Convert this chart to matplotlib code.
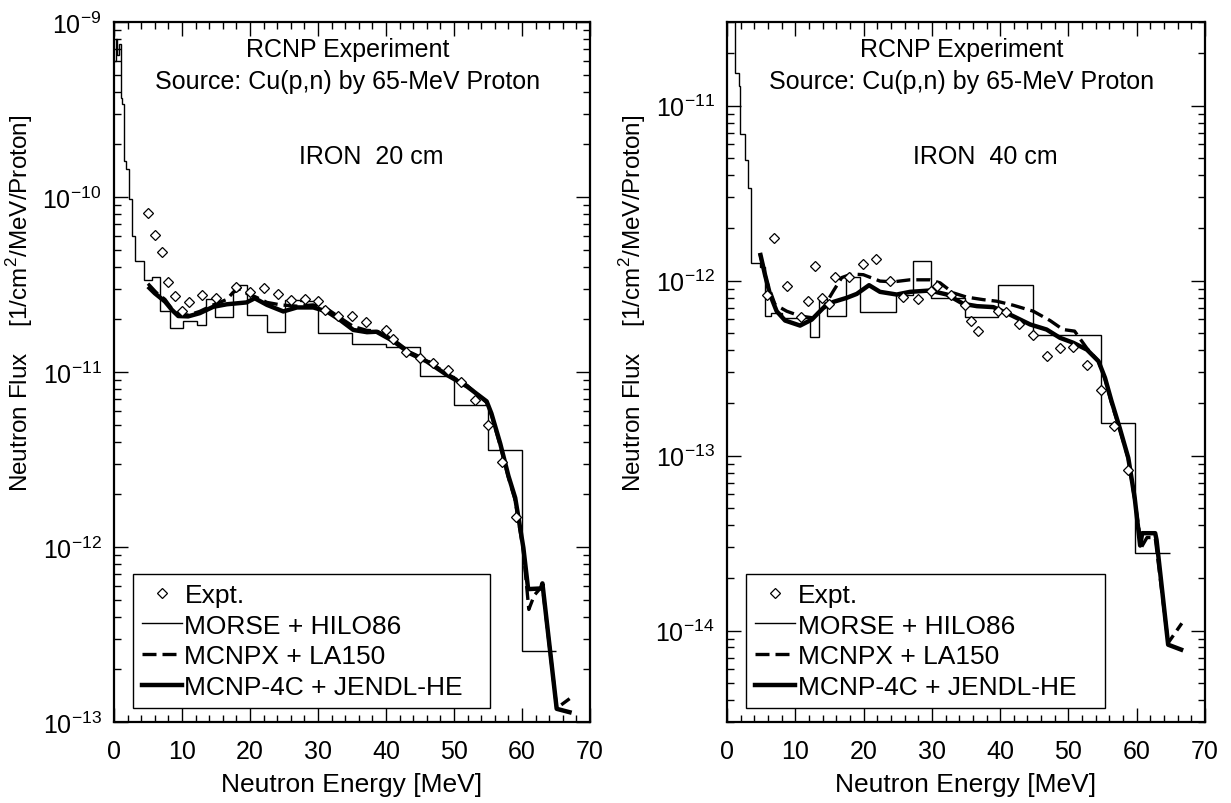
import math
import matplotlib
matplotlib.use("Agg")
import matplotlib.pyplot as plt
from matplotlib.lines import Line2D
from matplotlib.ticker import FixedLocator, MultipleLocator, FuncFormatter, NullFormatter

plt.rcParams['font.family'] = ['Liberation Sans', 'DejaVu Sans']
plt.rcParams['mathtext.fontset'] = 'custom'
plt.rcParams['mathtext.rm'] = 'Liberation Sans'

# ---------------- IRON 20 cm ----------------
morse20_edges = [0, 0.25, 0.5, 0.75, 1.0, 1.2, 1.4, 1.8, 2.2, 2.7, 3.1, 4.4, 5.6, 6.8, 8.2,
                 10.1, 12.2, 13.5, 14.9, 17.5, 19.5, 22.5, 25.1, 27.4, 30.0, 35.0, 40.0,
                 45.0, 50.0, 55.0, 60.0, 65.0]
morse20_flux = [6.0e-10, 8.0e-10, 6.5e-10, 7.5e-10, 3.7e-10, 3.4e-10, 1.6e-10, 1.45e-10,
                9.8e-11, 6.0e-11, 4.3e-11, 3.35e-11, 3.5e-11, 2.22e-11, 1.78e-11, 1.95e-11,
                1.86e-11, 2.6e-11, 2.07e-11, 3.16e-11, 2.12e-11, 1.69e-11, 2.58e-11, 2.55e-11,
                1.67e-11, 1.45e-11, 1.39e-11, 9.46e-12, 6.5e-12, 3.57e-12, 2.53e-13]

expt20_e = [5.05, 6.03, 7.0, 8.0, 9.0, 10.0, 11.1, 13.0, 15.0, 18.0, 20.0, 22.0, 24.1, 26.0,
            28.1, 30.0, 31.0, 33.0, 35.0, 37.0, 40.0, 41.0, 43.0, 45.0, 46.9, 49.1, 51.0,
            53.1, 55.0, 57.0, 59.1]
expt20_flux = [8.13e-11, 6.1e-11, 4.83e-11, 3.29e-11, 2.72e-11, 2.23e-11, 2.53e-11, 2.76e-11,
               2.64e-11, 3.08e-11, 2.88e-11, 3.01e-11, 2.81e-11, 2.57e-11, 2.62e-11, 2.55e-11,
               2.26e-11, 2.1e-11, 2.1e-11, 1.94e-11, 1.74e-11, 1.55e-11, 1.31e-11, 1.2e-11,
               1.12e-11, 1.03e-11, 8.73e-12, 6.95e-12, 5.0e-12, 3.07e-12, 1.49e-12]

mcnpx20_e = [5.0, 6.2, 7.5, 8.5, 9.5, 11.0, 12.6, 14.6, 16.6, 17.5, 18.6, 19.6, 20.7, 22.5,
             24.5, 26.9, 29.3, 31.3, 33.2, 35.2, 37.2, 38.6, 41.1, 43.5, 46.0, 48.9, 51.9,
             54.8, 55.5, 56.8, 58.0, 59.0, 60.2, 61.0, 61.8, 63.0, 65.1, 67.0]
mcnpx20_flux = [3.2e-11, 2.85e-11, 2.6e-11, 2.3e-11, 2.12e-11, 2.12e-11, 2.22e-11, 2.42e-11,
                2.6e-11, 2.85e-11, 3.0e-11, 2.8e-11, 2.7e-11, 2.5e-11, 2.42e-11, 2.38e-11,
                2.42e-11, 2.3e-11, 2.05e-11, 1.82e-11, 1.73e-11, 1.72e-11, 1.53e-11, 1.3e-11,
                1.17e-11, 9.8e-12, 8.4e-12, 6.7e-12, 5.7e-12, 3.8e-12, 2.5e-12, 1.85e-12,
                9.5e-13, 4.4e-13, 5.3e-13, 6.0e-13, 1.2e-13, 1.36e-13]

mcnp20_e = [5.0, 6.0, 7.5, 8.5, 9.45, 10.9, 12.6, 14.6, 16.6, 19.5, 20.7, 22.5, 24.9, 26.9,
            29.3, 31.3, 33.2, 35.2, 37.2, 38.6, 41.1, 43.5, 46.0, 48.9, 51.9, 54.8, 55.5,
            56.8, 58.0, 59.0, 60.2, 60.9, 62.8, 63.0, 65.1, 67.3]
mcnp20_flux = [3.08e-11, 2.82e-11, 2.53e-11, 2.27e-11, 2.09e-11, 2.08e-11, 2.17e-11, 2.36e-11,
               2.44e-11, 2.5e-11, 2.64e-11, 2.42e-11, 2.22e-11, 2.34e-11, 2.34e-11, 2.22e-11,
               1.99e-11, 1.74e-11, 1.69e-11, 1.7e-11, 1.5e-11, 1.28e-11, 1.15e-11, 9.66e-12,
               8.28e-12, 6.8e-12, 5.8e-12, 3.9e-12, 2.55e-12, 1.91e-12, 9.9e-13, 5.75e-13,
               5.8e-13, 6.2e-13, 1.19e-13, 1.13e-13]

# ---------------- IRON 40 cm ----------------
morse40_edges = [0, 0.6, 1.2, 1.7, 1.9, 2.6, 3.0, 3.5, 4.8, 5.5, 6.5, 8.0, 12.2, 13.4, 14.7,
                 17.4, 19.5, 24.8, 27.3, 29.8, 34.8, 39.7, 44.8, 54.7, 59.7, 64.9]
morse40_flux = [8.0e-11, 4.0e-11, 1.54e-11, 1.29e-11, 6.89e-12, 4.87e-12, 3.39e-12, 1.26e-12,
                1.19e-12, 6.27e-13, 6.54e-13, 6.12e-13, 4.75e-13, 7.96e-13, 6.27e-13, 1.05e-12,
                6.62e-13, 8.28e-13, 1.29e-12, 7.96e-13, 6.18e-13, 9.41e-13, 4.87e-13, 1.54e-13,
                2.78e-14]

expt40_e = [5.9, 6.88, 8.83, 10.83, 11.8, 12.88, 13.9, 14.9, 15.86, 17.8, 19.87, 21.8, 23.9,
            25.8, 27.9, 29.8, 30.8, 32.75, 34.85, 35.8, 36.8, 39.7, 40.8, 42.8, 44.76, 46.8,
            48.76, 50.7, 52.75, 54.7, 56.7, 58.7]
expt40_flux = [8.25e-13, 1.75e-12, 9.29e-13, 6.21e-13, 7.63e-13, 1.21e-12, 7.96e-13, 7.36e-13,
               1.05e-12, 1.05e-12, 1.25e-12, 1.33e-12, 9.93e-13, 8.07e-13, 7.89e-13, 8.77e-13,
               9.36e-13, 8.32e-13, 7.29e-13, 5.86e-13, 5.14e-13, 6.68e-13, 6.62e-13, 5.61e-13,
               4.91e-13, 3.7e-13, 4.12e-13, 4.16e-13, 3.29e-13, 2.37e-13, 1.47e-13, 8.26e-14]

mcnpx40_e = [4.83, 5.8, 7.03, 8.74, 10.7, 12.6, 14.1, 15.56, 16.8, 18.26, 19.96, 22.4, 24.35,
             26.8, 29.7, 31.2, 33.1, 35.1, 37.5, 39.5, 41.9, 44.85, 47.3, 49.2, 50.9, 52.7,
             54.4, 55.35, 56.3, 57.5, 58.76, 59.7, 60.7, 61.5, 62.7, 64.6, 66.6]
mcnpx40_flux = [1.42e-12, 9.9e-13, 7.29e-13, 6.68e-13, 6.27e-13, 6.12e-13, 6.98e-13, 8.7e-13,
                1.04e-12, 1.09e-12, 1.08e-12, 9.93e-13, 9.83e-13, 1.01e-12, 1.01e-12, 9.7e-13,
                8.51e-13, 8.04e-13, 7.78e-13, 7.62e-13, 7.23e-13, 6.68e-13, 5.91e-13, 5.25e-13,
                5.14e-13, 4.1e-13, 3.45e-13, 2.75e-13, 2.0e-13, 1.42e-13, 9.6e-14, 5.6e-14,
                3.0e-14, 3.4e-14, 3.4e-14, 8.5e-15, 1.1e-14]

mcnp40_e = [4.83, 5.56, 6.3, 7.27, 8.5, 10.7, 12.4, 14.1, 15.56, 17.5, 19.0, 20.8, 22.4, 24.85,
            26.8, 29.7, 32.2, 34.6, 36.6, 39.0, 41.4, 44.4, 46.8, 48.75, 50.7, 52.7, 54.4,
            55.35, 56.3, 57.5, 58.76, 59.7, 60.5, 60.8, 62.7, 62.9, 64.6, 66.8]
mcnp40_flux = [1.44e-12, 1.08e-12, 8.32e-13, 6.68e-13, 5.91e-13, 5.53e-13, 5.98e-13, 6.98e-13,
               7.55e-13, 7.96e-13, 8.39e-13, 9.41e-13, 8.62e-13, 8.32e-13, 8.62e-13, 8.77e-13,
               8.32e-13, 7.36e-13, 7.14e-13, 7.05e-13, 6.4e-13, 5.61e-13, 5.25e-13, 4.71e-13,
               4.41e-13, 4.03e-13, 3.46e-13, 2.78e-13, 2.05e-13, 1.44e-13, 9.7e-14, 5.73e-14,
               3.06e-14, 3.6e-14, 3.6e-14, 3.3e-14, 8.3e-15, 7.7e-15]

legend_order = ['Expt.', 'MORSE + HILO86', 'MCNPX + LA150', 'MCNP-4C + JENDL-HE']


def decade_label(v, pos):
    return r'$\mathregular{10^{%d}}$' % int(round(math.log10(v)))


def log_ticks(lo, hi):
    major, minor = [], []
    for e in range(int(math.floor(math.log10(lo))), int(math.ceil(math.log10(hi))) + 1):
        if lo * 0.999 <= 10.0 ** e <= hi * 1.001:
            major.append(10.0 ** e)
        for m in range(2, 10):
            v = m * 10.0 ** e
            if lo <= v <= hi:
                minor.append(v)
    return major, minor


def draw_panel(ax, ylim, morse, expt, mcnpx, mcnp, thickness):
    ax.stairs(morse[1], morse[0], baseline=None, color='black', lw=1.0)
    ax.plot(expt[0], expt[1], ls='none', marker='D', ms=5.5, mfc='white', mec='black',
            mew=0.9, zorder=5)
    ax.plot(mcnpx[0], mcnpx[1], color='black', lw=2.4, ls=(0, (4.2, 1.8)))
    ax.plot(mcnp[0], mcnp[1], color='black', lw=3.2, solid_capstyle='butt')

    ax.set_yscale('log')
    ax.set_xlim(0, 70)
    ax.set_ylim(*ylim)
    major, minor = log_ticks(*ylim)
    ax.xaxis.set_major_locator(MultipleLocator(10))
    ax.xaxis.set_minor_locator(MultipleLocator(2))
    ax.yaxis.set_major_locator(FixedLocator(major))
    ax.yaxis.set_minor_locator(FixedLocator(minor))
    ax.yaxis.set_major_formatter(FuncFormatter(decade_label))
    ax.yaxis.set_minor_formatter(NullFormatter())
    ax.tick_params(which='both', direction='in', top=True, right=True, labelsize=18,
                   width=1.0)
    ax.tick_params(axis='x', which='major', pad=12)
    ax.tick_params(axis='y', which='major', pad=9)
    ax.tick_params(which='major', length=10)
    ax.tick_params(which='minor', length=5)
    for s in ax.spines.values():
        s.set_linewidth(1.6)

    ax.set_xlabel('Neutron Energy [MeV]', fontsize=19, labelpad=7)
    ax.set_ylabel(r'Neutron Flux    [1/cm$^\mathregular{2}$/MeV/Proton]', fontsize=17.5)
    ax.yaxis.set_label_coords(-0.165, 0.6)

    ax.text(0.49, 0.962, 'RCNP Experiment', transform=ax.transAxes, ha='center',
            va='center', fontsize=18)
    ax.text(0.49, 0.916, 'Source: Cu(p,n) by 65-MeV Proton', transform=ax.transAxes,
            ha='center', va='center', fontsize=18)
    ax.text(0.54, 0.809, 'IRON  %s' % thickness, transform=ax.transAxes, ha='center',
            va='center', fontsize=18)

    handles = [
        Line2D([], [], ls='none', marker='D', ms=5.5, mfc='white', mec='black', mew=0.9),
        Line2D([], [], color='black', lw=1.0),
        Line2D([], [], color='black', lw=2.4, ls=(0, (4.2, 1.8))),
        Line2D([], [], color='black', lw=3.2),
    ]
    leg = ax.legend(handles, legend_order, loc='lower left', mode='expand',
                    bbox_to_anchor=(0.04, 0.02, 0.75, 0.19), fontsize=19, frameon=True,
                    fancybox=False, edgecolor='black', framealpha=1, borderpad=0.35,
                    handlelength=1.5, handletextpad=0.1, labelspacing=0.25,
                    borderaxespad=0.0)
    leg.get_frame().set_linewidth(1.0)


fig = plt.figure(figsize=(12.31, 8.04), dpi=100)
ax1 = fig.add_axes([0.0926, 0.1007, 0.3867, 0.8706])
ax2 = fig.add_axes([0.5906, 0.1007, 0.3883, 0.8706])

draw_panel(ax1, (1e-13, 1e-9), (morse20_edges, morse20_flux), (expt20_e, expt20_flux),
           (mcnpx20_e, mcnpx20_flux), (mcnp20_e, mcnp20_flux), '20 cm')
draw_panel(ax2, (3e-15, 3e-11), (morse40_edges, morse40_flux), (expt40_e, expt40_flux),
           (mcnpx40_e, mcnpx40_flux), (mcnp40_e, mcnp40_flux), '40 cm')

fig.savefig('out.png', dpi=100)
